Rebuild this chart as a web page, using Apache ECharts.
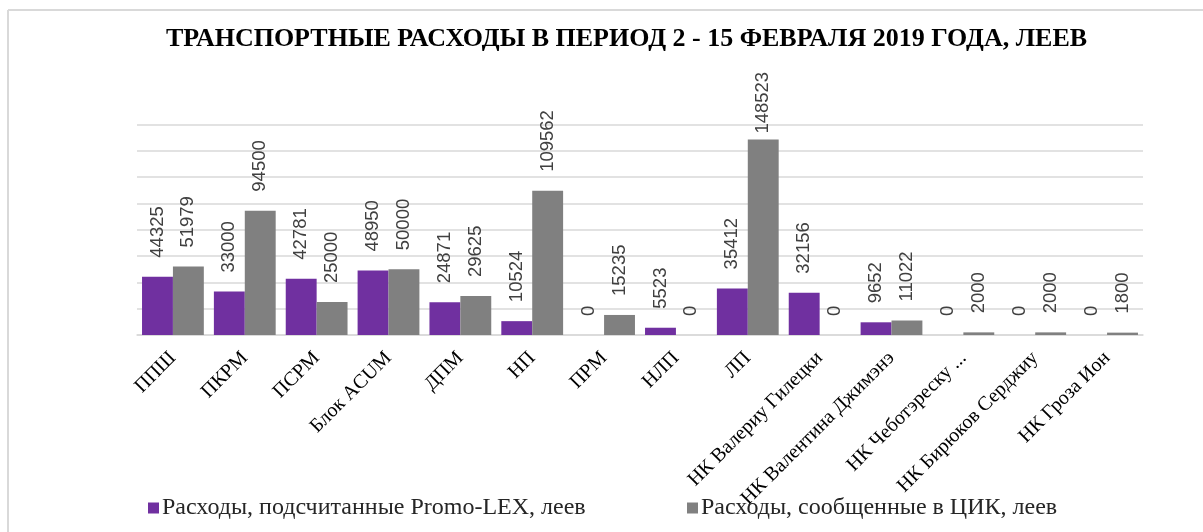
<!DOCTYPE html>
<html>
<head>
<meta charset="utf-8">
<script src="https://cdn.jsdelivr.net/npm/echarts@6/dist/echarts.min.js"></script>
<style>
html,body{margin:0;padding:0;background:#fff;}
#chart{width:1203px;height:532px;}
</style>
</head>
<body>
<div id="chart"></div>
<script>
var titleText = 'ТРАНСПОРТНЫЕ РАСХОДЫ В ПЕРИОД 2 - 15 ФЕВРАЛЯ 2019 ГОДА, ЛЕЕВ';
var categories = ['ППШ','ПКРМ','ПСРМ','Блок ACUM','ДПМ','НП','ПРМ','НЛП','ЛП','НК Валериу Гилецки','НК Валентина Джимэнэ','НК Чеботэреску ...','НК Бирюков Серджиу','НК Гроза Ион'];
var seriesNames = ['Расходы, подсчитанные Promo-LEX, леев','Расходы, сообщенные в ЦИК, леев'];
var promoLex = [44325,33000,42781,48950,24871,10524,0,5523,35412,32156,9652,0,0,0];
var cik = [51979,94500,25000,50000,29625,109562,15235,0,148523,0,11022,2000,2000,1800];
var yMin = 0, yMax = 160000, yInterval = 20000;

var chart = echarts.init(document.getElementById('chart'));
var labelFont = {fontFamily:'Liberation Sans', fontSize:18.5, color:'#404040'};
function mkData(arr){
  return arr.map(function(v){
    if (v > yMax*0.9) return {value:v, label:{distance:6}};
    return v;
  });
}
var legendText = {fontFamily:'Liberation Serif', fontSize:24, color:'#262626', padding:[0,0,0,-2]};
var option = {
  animation:false,
  backgroundColor:'#ffffff',
  title:{text:titleText, left:161, top:21,
    textStyle:{fontFamily:'Liberation Serif', fontWeight:'bold', fontSize:26, color:'#000'}},
  graphic:[
    {type:'line', shape:{x1:8,y1:10,x2:1203,y2:10}, style:{stroke:'#d9d9d9', lineWidth:2}},
    {type:'line', shape:{x1:8,y1:10,x2:8,y2:532}, style:{stroke:'#d9d9d9', lineWidth:2}}
  ],
  legend:[
    {data:[seriesNames[0]], left:143, bottom:7, itemWidth:11, itemHeight:11, itemGap:0, icon:'rect', textStyle:legendText},
    {data:[seriesNames[1]], left:682, bottom:7, itemWidth:11, itemHeight:11, itemGap:0, icon:'rect', textStyle:legendText}
  ],
  grid:{left:137, right:60, top:124.5, bottom:197, containLabel:false},
  xAxis:{type:'category', data:categories,
    axisLine:{lineStyle:{color:'#d9d9d9', width:1.5}},
    axisTick:{show:false},
    axisLabel:{rotate:45, interval:0, margin:20, fontFamily:'Liberation Serif', fontSize:20, color:'#000'}},
  yAxis:{type:'value', min:yMin, max:yMax, interval:yInterval,
    axisLabel:{show:false}, axisLine:{show:false}, axisTick:{show:false},
    splitLine:{lineStyle:{color:'#d9d9d9', width:1.5}}},
  series:[
    {name:seriesNames[0], type:'bar', data:mkData(promoLex), barGap:'0%', barCategoryGap:'14%',
      itemStyle:{color:'#7030A0'},
      label:Object.assign({show:true, position:'top', rotate:90, align:'left', verticalAlign:'middle', distance:19}, labelFont)},
    {name:seriesNames[1], type:'bar', data:mkData(cik), barGap:'0%', barCategoryGap:'14%',
      itemStyle:{color:'#808080'},
      label:Object.assign({show:true, position:'top', rotate:90, align:'left', verticalAlign:'middle', distance:19}, labelFont)}
  ]
};
chart.setOption(option);
</script>
</body>
</html>
